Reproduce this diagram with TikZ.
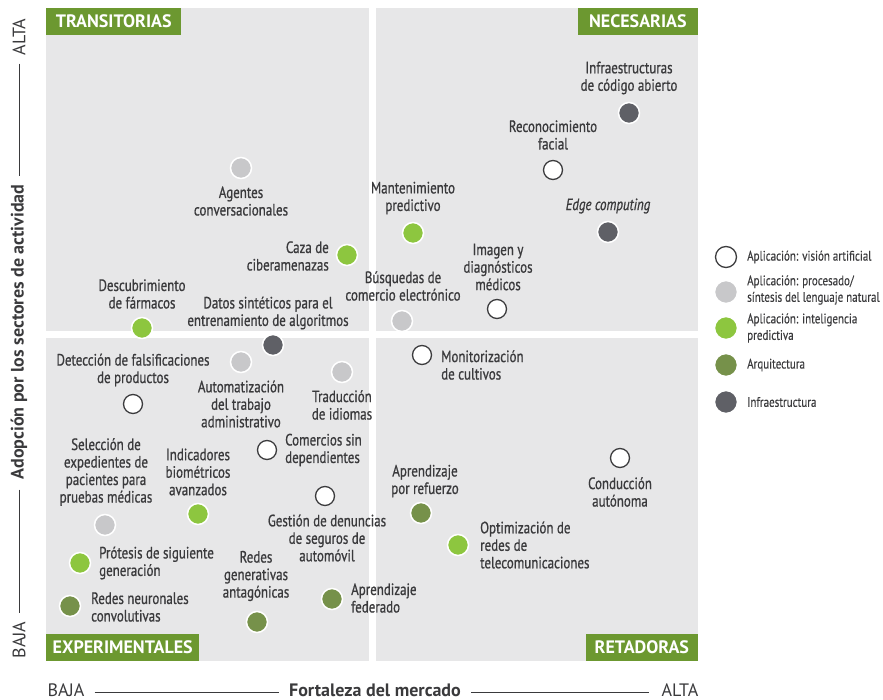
\documentclass[tikz,border=0pt]{standalone}
\usepackage{fontspec}
\setmainfont{PT Sans}[FakeStretch=0.8]
\newfontfamily\lblfont{PT Sans}[FakeStretch=0.79, FakeBold=0.8]
\newfontfamily\legfont{PT Sans}[FakeStretch=0.79, FakeBold=0.3]
\newfontfamily\widefont{PT Sans}
\definecolor{panel}{RGB}{231,231,232}
\definecolor{qgreen}{RGB}{108,152,48}
\definecolor{pgreen}{RGB}{141,198,63}
\definecolor{archc}{RGB}{118,145,74}
\definecolor{infra}{RGB}{95,96,102}
\definecolor{nlp}{RGB}{200,200,202}
\definecolor{txt}{RGB}{58,58,60}
\definecolor{ring}{RGB}{60,60,62}
\tikzset{
  lbl/.style={font=\lblfont\fontsize{16.4}{17.5}\selectfont, text=txt, inner sep=0pt},
  lc/.style={lbl, align=center},
  ll/.style={lbl, align=left, anchor=west},
  lr/.style={lbl, align=right, anchor=east},
  dot/.style={circle, minimum size=21pt, inner sep=0pt, draw=white, line width=1.5pt},
  vis/.style={dot, fill=white, draw=ring, line width=1.3pt, minimum size=19pt},
  nlpd/.style={dot, fill=nlp},
  pred/.style={dot, fill=pgreen},
  arch/.style={dot, fill=archc},
  inf/.style={dot, fill=infra},
  quad/.style={fill=qgreen, text=white, font=\widefont\fontsize{18}{18}\bfseries\selectfont, inner sep=0pt, minimum height=27pt},
  axl/.style={font=\widefont\fontsize{18}{18}\selectfont, text=txt, inner sep=0pt},
  axt/.style={font=\widefont\fontsize{18}{18}\bfseries\selectfont, text=txt, inner sep=0pt},
  axline/.style={draw=txt, line width=0.9pt},
  leg/.style={font=\legfont\fontsize{13.9}{16.5}\selectfont, text=txt, inner sep=0pt, align=left, anchor=west},
}
\begin{document}
\begin{tikzpicture}[x=1pt,y=-1pt]
\useasboundingbox (0,0) rectangle (883,700);
% panels
\fill[panel] (46,8) rectangle (369,331);
\fill[panel] (376,8) rectangle (698,331);
\fill[panel] (46,338) rectangle (369,661);
\fill[panel] (376,338) rectangle (698,661);
% quadrant labels
\node[quad, anchor=north west, minimum width=135pt] (qtl) at (46,8) {TRANSITORIAS};
\node[quad, anchor=north east, minimum width=120pt] (qtr) at (698,8) {NECESARIAS};
\node[quad, anchor=south west, minimum width=153pt] (qbl) at (46,661) {EXPERIMENTALES};
\node[quad, anchor=south east, minimum width=112pt] (qbr) at (698,661) {RETADORAS};
% axes
\node[axl, rotate=90] (yalta) at (19,37) {ALTA};
\node[axt, rotate=90] (ytitle) at (19,332) {Adopción por los sectores de actividad};
\node[axl, rotate=90] (ybaja) at (19,640) {BAJA};
\draw[axline] ([yshift=-8pt]yalta.west) -- ([yshift=8pt]ytitle.east);
\draw[axline] ([yshift=-10pt]ytitle.west) -- ([yshift=8pt]ybaja.east);
\node[axl] (xbaja) at (66,690) {BAJA};
\node[axt] (xtitle) at (375,690) {Fortaleza del mercado};
\node[axl] (xalta) at (680,690) {ALTA};
\draw[axline] ([xshift=10pt,yshift=-2pt]xbaja.east) -- ([xshift=-10pt,yshift=-2pt]xtitle.west |- xbaja.east);
\draw[axline] ([xshift=10pt,yshift=-2pt]xtitle.east |- xbaja.east) -- ([xshift=-12pt,yshift=-2pt]xalta.west |- xbaja.east);
% top-left
\node[nlpd] (d1) at (241,168) {};
\node[lc] (t1) at (241,201) {Agentes\\conversacionales};
\node[pred] (d2) at (347,255) {};
\node[lr] (t2) at (329,256) {Caza de\\ciberamenazas};
\node[pred] (d3) at (142,328) {};
\node[lc] (t3) at (142,294) {Descubrimiento\\de fármacos};
\node[lc] (t4) at (268,313) {Datos sintéticos para el\\entrenamiento de algoritmos};
\node[inf] (d4) at (273,345) {};
% top-right
\node[inf] (d5) at (629,113) {};
\node[lc] (t5) at (629,78) {Infraestructuras\\de código abierto};
\node[vis] (d6) at (553,170) {};
\node[lc] (t6) at (553,135) {Reconocimiento\\facial};
\node[pred] (d7) at (413,233) {};
\node[lc] (t7) at (413,198) {Mantenimiento\\predictivo};
\node[inf] (d8) at (608,232) {};
\node[lc, font=\lblfont\fontsize{16.4}{17.5}\itshape\selectfont] (t8) at (608,206) {Edge computing};
\node[vis] (d9) at (497,309) {};
\node[lc] (t9) at (498,267) {Imagen y\\diagnósticos\\médicos};
\node[nlpd] (d10) at (402,321) {};
\node[lc] (t10) at (403,286) {Búsquedas de\\comercio electrónico};
% bottom-left
\node[lc] (t11) at (133,370) {Detección de falsificaciones\\de productos};
\node[vis] (d11) at (133,404) {};
\node[nlpd] (d12) at (241,362) {};
\node[lc] (t12) at (241,404) {Automatización\\del trabajo\\administrativo};
\node[nlpd] (d13) at (342,372) {};
\node[lc] (t13) at (342,405) {Traducción\\de idiomas};
\node[vis] (d14) at (267,450) {};
\node[ll] (t14) at (285,450) {Comercios sin\\dependientes};
\node[vis] (d15) at (325,496) {};
\node[lc] (t15) at (327,538) {Gestión de denuncias\\de seguros de\\automóvil};
\node[lc] (t16) at (106,472) {Selección de\\expedientes de\\pacientes para\\pruebas médicas};
\node[nlpd] (d16) at (105,525) {};
\node[lc] (t17) at (198,472) {Indicadores\\biométricos\\avanzados};
\node[pred] (d17) at (198,514) {};
\node[pred] (d18) at (80,563) {};
\node[ll] (t18) at (99,563) {Prótesis de siguiente\\generación};
\node[arch] (d19) at (70,606) {};
\node[ll] (t19) at (91,607) {Redes neuronales\\convolutivas};
\node[lc] (t20) at (256,576) {Redes\\generativas\\antagónicas};
\node[arch] (d20) at (257,622) {};
\node[arch] (d21) at (332,599) {};
\node[ll] (t21) at (351,598) {Aprendizaje\\federado};
% bottom-right
\node[vis] (d22) at (422,355) {};
\node[ll] (t22) at (441,365) {Monitorización\\de cultivos};
\node[vis] (d23) at (620,458) {};
\node[lc] (t23) at (620,492) {Conducción\\autónoma};
\node[lc] (t24) at (425,481) {Aprendizaje\\por refuerzo};
\node[arch] (d24) at (421,513) {};
\node[pred] (d25) at (458,545) {};
\node[ll] (t25) at (480,545) {Optimización de\\redes de\\telecomunicaciones};
% legend
\node[vis, minimum size=21pt] (l1) at (726,257) {};
\node[leg] (lt1) at (747,257) {Aplicación: visión artificial};
\node[nlpd, minimum size=23pt] (l2) at (726,292) {};
\node[leg] (lt2) at (747,290) {Aplicación: procesado/\\síntesis del lenguaje natural};
\node[pred, minimum size=23pt] (l3) at (726,328) {};
\node[leg] (lt3) at (747,328) {Aplicación: inteligencia\\predictiva};
\node[arch, minimum size=23pt] (l4) at (726,365) {};
\node[leg] (lt4) at (747,365) {Arquitectura};
\node[inf, minimum size=23pt] (l5) at (726,402) {};
\node[leg] (lt5) at (747,402) {Infraestructura};
\end{tikzpicture}
\end{document}
